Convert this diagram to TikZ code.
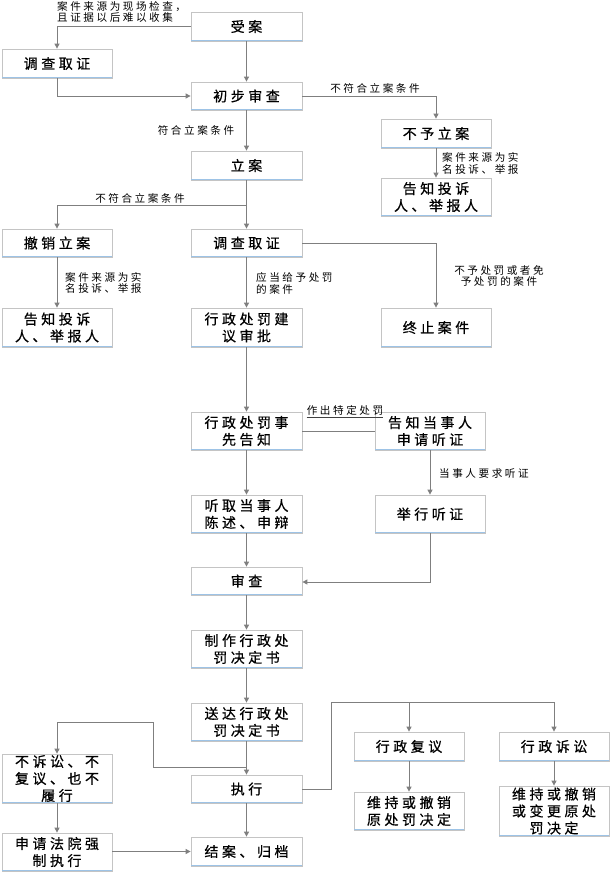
\documentclass[tikz,border=0pt]{standalone}
\usepackage{fontspec}
\usetikzlibrary{arrows.meta}
\newfontfamily\boxf[LetterSpace=25,FakeBold=0.6]{Noto Sans CJK SC}
\newfontfamily\lblf[LetterSpace=24]{Noto Sans CJK SC}
\definecolor{ln}{HTML}{7F7F7F}
\definecolor{bd}{HTML}{C4C4C4}
\definecolor{bb}{HTML}{9DC3E6}
\tikzset{
 bx/.style 2 args={draw=bd, line width=0.8pt, fill=white, minimum width=#1pt, minimum height=#2pt, inner sep=0pt, align=center, font=\boxf\fontsize{14}{17}\selectfont},
 conn/.style={draw=ln, line width=1pt, -{Triangle[width=5pt,length=5pt]}},
 plain/.style={draw=ln, line width=1pt},
 lbl/.style={font=\lblf\fontsize{10.6}{11.5}\selectfont, inner sep=0pt, text=black, align=left},
 bottomedge/.style={draw=bb, line width=1.5pt},
}
\begin{document}
\begin{tikzpicture}[x=1pt,y=-1pt]
\useasboundingbox[fill=white] (0,0) rectangle (611,873);
% boxes
\node[bx={111}{29}] (shouan) at (246.5,26.5) {受案};
\node[bx={110}{29}] (dc1) at (57,63.5) {调查取证};
\node[bx={111}{28}] (cbsc) at (246.5,96) {初步审查};
\node[bx={110}{29}] (byla) at (436,133.5) {不予立案};
\node[bx={110}{38}] (gz1) at (436,197) {告知投诉\\人、举报人};
\node[bx={111}{29}] (lian) at (246.5,165.5) {立案};
\node[bx={110}{28}] (cxla) at (57,243) {撤销立案};
\node[bx={111}{28}] (dc2) at (246.5,243) {调查取证};
\node[bx={110}{39}] (gz2) at (57,327.5) {告知投诉\\人、举报人};
\node[bx={111}{39}] (jysp) at (246.5,327.5) {行政处罚建\\议审批};
\node[bx={110}{39}] (zzaj) at (436,327.5) {终止案件};
\node[bx={111}{38}] (sxgz) at (246.5,431) {行政处罚事\\先告知};
\node[bx={110}{38}] (sqtz) at (430,431) {告知当事人\\申请听证};
\node[bx={111}{38}] (tq) at (246.5,514) {听取当事人\\陈述、申辩};
\node[bx={110}{38}] (jxtz) at (430,514) {举行听证};
\node[bx={111}{28}] (sc) at (246.5,581) {审查};
\node[bx={111}{38}] (zz) at (246.5,649) {制作行政处\\罚决定书};
\node[bx={111}{38}] (sd) at (246.5,722) {送达行政处\\罚决定书};
\node[bx={111}{28}] (zx) at (246.5,789) {执行};
\node[bx={110}{49}] (bss) at (57,778.5) {不诉讼、不\\复议、也不\\履行};
\node[bx={110}{38}] (sqfy) at (57,852) {申请法院强\\制执行};
\node[bx={111}{29}] (ja) at (246.5,851.5) {结案、归档};
\node[bx={110}{29}] (xzfy) at (409,746.5) {行政复议};
\node[bx={110}{29}] (xzss) at (554,746.5) {行政诉讼};
\node[bx={110}{38}] (wc1) at (409,811) {维持或撤销\\原处罚决定};
\node[bx={110}{50}] (wc2) at (554,811) {维持或撤销\\或变更原处\\罚决定};
\foreach \n in {shouan,dc1,cbsc,byla,gz1,lian,cxla,dc2,gz2,jysp,zzaj,sxgz,sqtz,tq,jxtz,sc,zz,sd,zx,bss,sqfy,ja,xzfy,xzss,wc1,wc2}
  \draw[bottomedge] ([xshift=0.4pt,yshift=0.75pt]\n.south west) -- ([xshift=-0.4pt,yshift=0.75pt]\n.south east);
% labels
\node[lbl, anchor=south west] (l1) at (57,23) {案件来源为现场检查，\\且证据以后难以收集};
\node[lbl] (l2) at (375,88) {不符合立案条件};
\node[lbl, anchor=west] (l3) at (442,163.5) {案件来源为实\\名投诉、举报};
\node[lbl] (l4) at (196,130) {符合立案条件};
\node[lbl] (l5) at (140,198) {不符合立案条件};
\node[lbl, anchor=west] (l6) at (65,283) {案件来源为实\\名投诉、举报};
\node[lbl, anchor=west] (l7) at (256,283.5) {应当给予处罚\\的案件};
\node[lbl, align=center] (l8) at (499,276) {不予处罚或者免\\予处罚的案件};
\node[lbl, anchor=south] (l9) at (345,416) {作出特定处罚};
\draw[draw=black!75, line width=0.6pt] ([yshift=-1.5pt]l9.south west) -- ([yshift=-1.5pt]l9.south east);
\node[lbl, anchor=west] (l10) at (439,473) {当事人要求听证};
% coordinates
\coordinate (c1) at (57,26.5);
\coordinate (c2) at (57,96);
\coordinate (c3) at (436,96);
\coordinate (c4) at (246.5,205);
\coordinate (c5) at (57,205);
\coordinate (c6) at (436,243);
\coordinate (c7) at (430,582);
\coordinate (j1) at (246.5,767);
\coordinate (c8) at (153,767);
\coordinate (c9) at (153,722);
\coordinate (c10) at (57,722);
\coordinate (c11) at (331,789);
\coordinate (c12) at (331,702);
\coordinate (c13) at (554,702);
\coordinate (c14) at (409,702);
% connectors
\draw[conn] (shouan) -- (cbsc);
\draw[conn] (shouan.west) -- (c1) -- (dc1.north);
\draw[conn] (dc1.south) -- (c2) -- (cbsc.west);
\draw[conn] (cbsc.east) -- (c3) -- (byla.north);
\draw[conn] (byla) -- (gz1);
\draw[conn] (cbsc) -- (lian);
\draw[conn] (lian) -- (dc2);
\draw[conn] (c4) -- (c5) -- (cxla.north);
\draw[conn] (cxla) -- (gz2);
\draw[conn] (dc2) -- (jysp);
\draw[conn] (dc2.east) -- (c6) -- (zzaj.north);
\draw[conn] (jysp) -- (sxgz);
\draw[plain] (sxgz) -- (sqtz);
\draw[conn] (sqtz) -- (jxtz);
\draw[conn] (sxgz) -- (tq);
\draw[conn] (tq) -- (sc);
\draw[conn] (jxtz.south) -- (c7) -- (sc.east |- c7);
\draw[conn] (sc) -- (zz);
\draw[conn] (zz) -- (sd);
\draw[conn] (sd) -- (zx);
\draw[conn] (j1) -- (c8) -- (c9) -- (c10) -- (bss.north);
\draw[conn] (bss) -- (sqfy);
\draw[conn] (sqfy.east |- ja.west) -- (ja.west);
\draw[conn] (zx) -- (ja);
\draw[conn] (zx.east) -- (c11) -- (c12) -- (c13) -- (xzss.north);
\draw[conn] (c14) -- (xzfy.north);
\draw[conn] (xzfy) -- (wc1);
\draw[conn] (xzss) -- (wc2);
\end{tikzpicture}
\end{document}
